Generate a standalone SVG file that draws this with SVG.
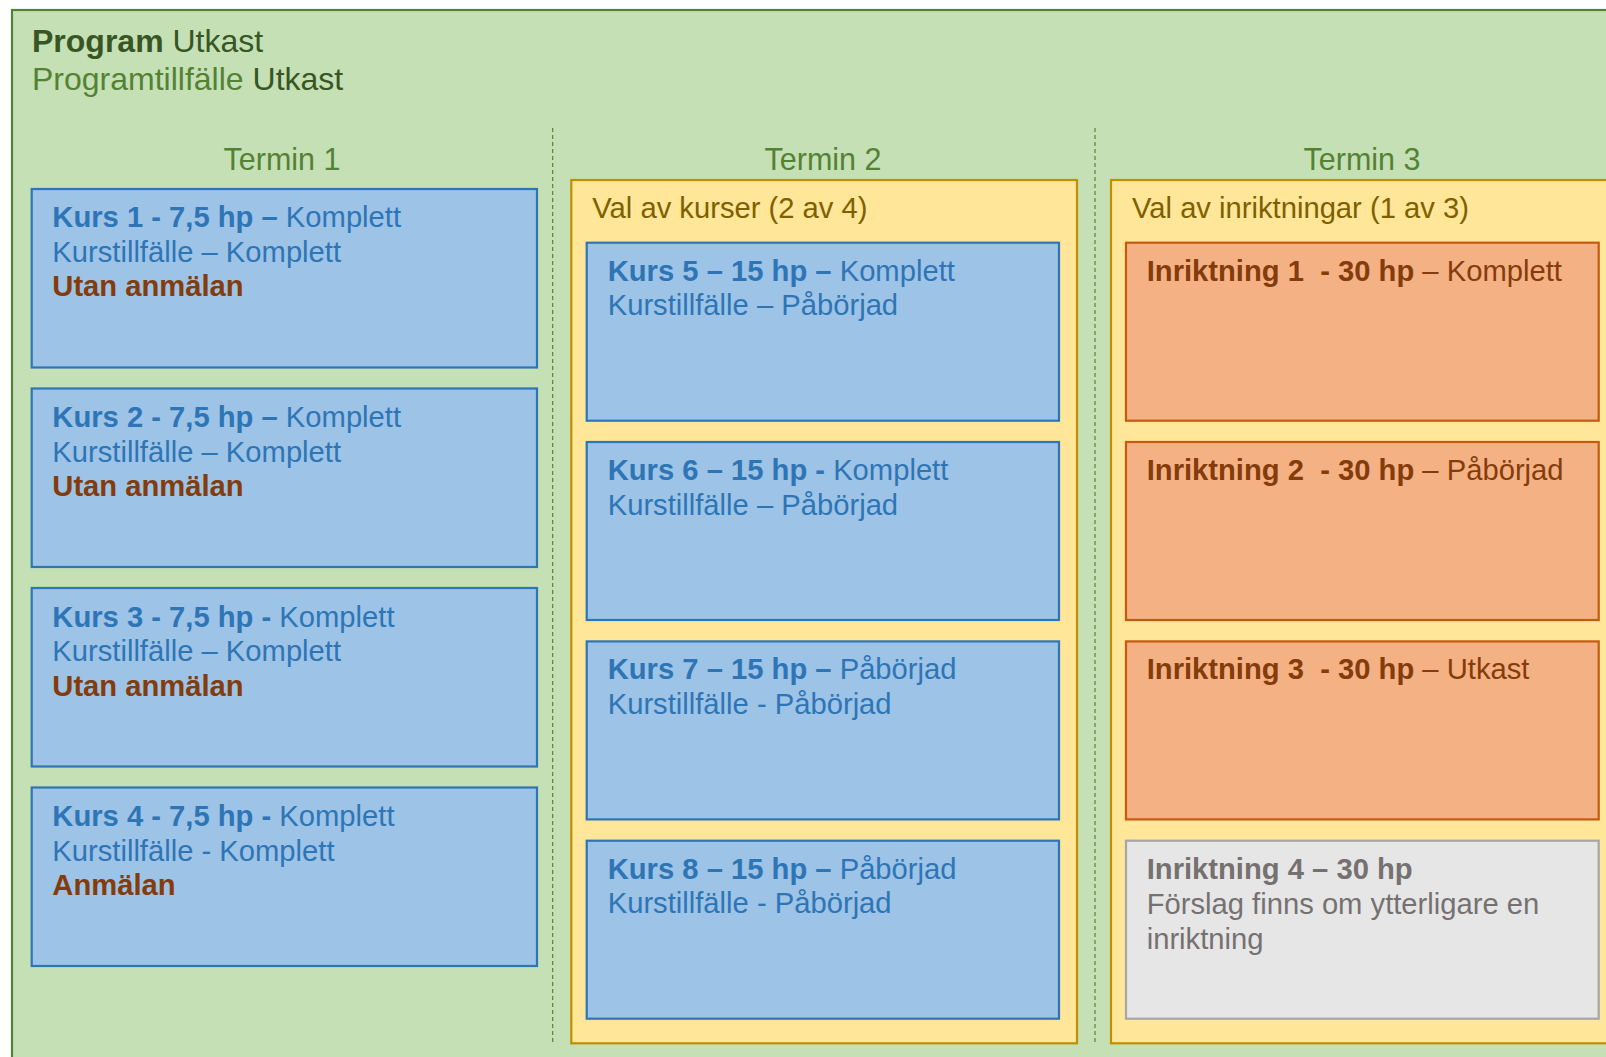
<svg xmlns="http://www.w3.org/2000/svg" width="1606" height="1057" viewBox="0 0 1606 1057">
<style>
text{font-family:"Liberation Sans",Arial,sans-serif;white-space:pre}
.title{font-size:32px}
.term{font-size:30.5px;fill:#548235;text-anchor:middle}
.t{font-size:29.2px}
.b{font-weight:bold}
.blue{fill:#9dc3e6;stroke:#2e75b6;stroke-width:2.2}
.orange{fill:#f4b183;stroke:#c55a11;stroke-width:2.2}
.grey{fill:#e7e6e6;stroke:#a6a6a6;stroke-width:2.2}
.yellow{fill:#ffe699;stroke:#bf9000;stroke-width:2.2}
.bt{fill:#2e75b6}
.br{fill:#843c0c}
.gt{fill:#767171}
.yt{fill:#7f6000}
.dash{stroke:#548235;stroke-width:1.2;stroke-dasharray:4 3;fill:none}
</style>
<g id="program">
<rect x="12" y="10" width="1610" height="1070" fill="#c5e0b4" stroke="#548235" stroke-width="2.2"/>
<text class="title" x="32" y="51.7"><tspan class="b" fill="#375623">Program</tspan><tspan fill="#375623"> Utkast</tspan></text>
<text class="title" x="32" y="90"><tspan fill="#548235">Programtillfälle</tspan><tspan fill="#375623"> Utkast</tspan></text>
</g>
<g id="connectors">
<line class="dash" x1="552.7" y1="128" x2="552.7" y2="1044"/>
<line class="dash" x1="1095" y1="128" x2="1095" y2="1044"/>
</g>
<g id="termin1">
<text class="term" x="282" y="170">Termin 1</text>
</g>
<g id="kurs1">
<rect class="blue" x="31.7" y="189" width="505.3" height="178.5"/>
<text class="t bt" x="52.3" y="227"><tspan class="b">Kurs 1 - 7,5 hp –</tspan> Komplett</text>
<text class="t bt" x="52.3" y="261.7">Kurstillfälle – Komplett</text>
<text class="t br b" x="52.3" y="296.4">Utan anmälan</text>
</g>
<g id="kurs2">
<rect class="blue" x="31.7" y="388.5" width="505.3" height="178.5"/>
<text class="t bt" x="52.3" y="427"><tspan class="b">Kurs 2 - 7,5 hp –</tspan> Komplett</text>
<text class="t bt" x="52.3" y="461.7">Kurstillfälle – Komplett</text>
<text class="t br b" x="52.3" y="496.4">Utan anmälan</text>
</g>
<g id="kurs3">
<rect class="blue" x="31.7" y="588" width="505.3" height="178.5"/>
<text class="t bt" x="52.3" y="626.5"><tspan class="b">Kurs 3 - 7,5 hp -</tspan> Komplett</text>
<text class="t bt" x="52.3" y="661.2">Kurstillfälle – Komplett</text>
<text class="t br b" x="52.3" y="695.9">Utan anmälan</text>
</g>
<g id="kurs4">
<rect class="blue" x="31.7" y="787.5" width="505.3" height="178.5"/>
<text class="t bt" x="52.3" y="826"><tspan class="b">Kurs 4 - 7,5 hp -</tspan> Komplett</text>
<text class="t bt" x="52.3" y="860.7">Kurstillfälle - Komplett</text>
<text class="t br b" x="52.3" y="895.4">Anmälan</text>
</g>
<g id="termin2">
<text class="term" x="823" y="169.5">Termin 2</text>
<rect class="yellow" x="571.3" y="180" width="505.7" height="863.3"/>
<text class="t yt" x="592.3" y="217.6">Val av kurser (2 av 4)</text>
</g>
<g id="kurs5">
<rect class="blue" x="586.7" y="242.7" width="472.3" height="178"/>
<text class="t bt" x="607.7" y="280.5"><tspan class="b">Kurs 5 – 15 hp –</tspan> Komplett</text>
<text class="t bt" x="607.7" y="315.2">Kurstillfälle – Påbörjad</text>
</g>
<g id="kurs6">
<rect class="blue" x="586.7" y="442" width="472.3" height="178"/>
<text class="t bt" x="607.7" y="479.8"><tspan class="b">Kurs 6 – 15 hp -</tspan> Komplett</text>
<text class="t bt" x="607.7" y="514.5">Kurstillfälle – Påbörjad</text>
</g>
<g id="kurs7">
<rect class="blue" x="586.7" y="641.4" width="472.3" height="178"/>
<text class="t bt" x="607.7" y="679.2"><tspan class="b">Kurs 7 – 15 hp –</tspan> Påbörjad</text>
<text class="t bt" x="607.7" y="713.9">Kurstillfälle - Påbörjad</text>
</g>
<g id="kurs8">
<rect class="blue" x="586.7" y="840.7" width="472.3" height="178"/>
<text class="t bt" x="607.7" y="878.5"><tspan class="b">Kurs 8 – 15 hp –</tspan> Påbörjad</text>
<text class="t bt" x="607.7" y="913.2">Kurstillfälle - Påbörjad</text>
</g>
<g id="termin3">
<text class="term" x="1362" y="169.5">Termin 3</text>
<rect class="yellow" x="1111" y="180" width="510" height="863.3"/>
<text class="t yt" x="1132" y="217.6">Val av inriktningar (1 av 3)</text>
</g>
<g id="inriktning1">
<rect class="orange" x="1126" y="242.7" width="472.7" height="178"/>
<text class="t br" x="1146.7" y="280.5"><tspan class="b">Inriktning 1  - 30 hp</tspan> – Komplett</text>
</g>
<g id="inriktning2">
<rect class="orange" x="1126" y="442" width="472.7" height="178"/>
<text class="t br" x="1146.7" y="479.8"><tspan class="b">Inriktning 2  - 30 hp</tspan> – Påbörjad</text>
</g>
<g id="inriktning3">
<rect class="orange" x="1126" y="641.4" width="472.7" height="178"/>
<text class="t br" x="1146.7" y="679.2"><tspan class="b">Inriktning 3  - 30 hp</tspan> – Utkast</text>
</g>
<g id="inriktning4">
<rect class="grey" x="1126" y="840.7" width="472.7" height="178"/>
<text class="t gt b" x="1146.7" y="879.3">Inriktning 4 – 30 hp</text>
<text class="t gt" x="1146.7" y="914">Förslag finns om ytterligare en</text>
<text class="t gt" x="1146.7" y="948.7">inriktning</text>
</g>
</svg>
